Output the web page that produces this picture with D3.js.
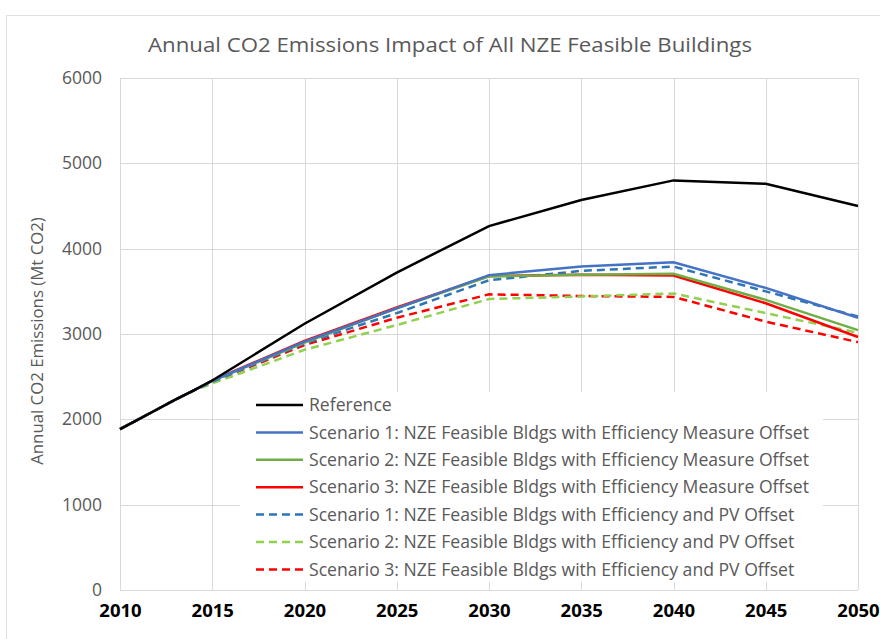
<!DOCTYPE html>
<html>
<head>
<meta charset="utf-8">
<script src="https://cdn.jsdelivr.net/npm/d3@7"></script>
<style>
  body { margin: 0; background: #fff; }
  text { font-family: "Open Sans", sans-serif; }
</style>
</head>
<body>
<script>
// years (yearly to 2015, then every 5 years)
var years = [2010, 2011, 2012, 2013, 2014, 2015, 2020, 2025, 2030, 2035, 2040, 2045, 2050];

// Mt CO2
var reference   = [1885, 2000, 2115, 2230, 2340, 2455, 3120, 3720, 4265, 4570, 4800, 4760, 4500];
var s1Measure   = [1885, 2000, 2115, 2230, 2340, 2450, 2910, 3300, 3690, 3790, 3840, 3540, 3190];
var s2Measure   = [1885, 2000, 2115, 2230, 2340, 2450, 2900, 3300, 3675, 3695, 3705, 3400, 3045];
var s3Measure   = [1885, 2000, 2115, 2230, 2340, 2455, 2920, 3310, 3680, 3695, 3685, 3360, 2965];
var s1PV        = [1885, 2000, 2115, 2230, 2340, 2440, 2890, 3245, 3630, 3740, 3790, 3500, 3205];
var s2PV        = [1885, 2000, 2115, 2230, 2335, 2420, 2815, 3105, 3410, 3440, 3475, 3245, 3015];
var s3PV        = [1885, 2000, 2115, 2230, 2340, 2440, 2870, 3190, 3465, 3445, 3435, 3145, 2905];

var yTicks = [0, 1000, 2000, 3000, 4000, 5000, 6000];
var xTicks = [2010, 2015, 2020, 2025, 2030, 2035, 2040, 2045, 2050];

var series = [
  {name: "Reference", values: reference, color: "#000000", dash: null},
  {name: "Scenario 1: NZE Feasible Bldgs with Efficiency Measure Offset", values: s1Measure, color: "#4472C4", dash: null},
  {name: "Scenario 2: NZE Feasible Bldgs with Efficiency Measure Offset", values: s2Measure, color: "#70AD47", dash: null},
  {name: "Scenario 3: NZE Feasible Bldgs with Efficiency Measure Offset", values: s3Measure, color: "#FF0000", dash: null},
  {name: "Scenario 1: NZE Feasible Bldgs with Efficiency and PV Offset", values: s1PV, color: "#2E75B6", dash: "8,5"},
  {name: "Scenario 2: NZE Feasible Bldgs with Efficiency and PV Offset", values: s2PV, color: "#92D050", dash: "8,5"},
  {name: "Scenario 3: NZE Feasible Bldgs with Efficiency and PV Offset", values: s3PV, color: "#FF0000", dash: "8,5"}
];

var W = 880, H = 639;
var margin = {top: 78, right: 22, bottom: 49, left: 120},
    width = W - margin.left - margin.right,
    height = H - margin.top - margin.bottom;

var svg = d3.select("body").append("svg")
    .attr("width", W)
    .attr("height", H);

// chart border
svg.append("rect")
    .attr("x", 6.5).attr("y", 15.5)
    .attr("width", W).attr("height", H)
    .attr("fill", "none")
    .attr("stroke", "#e0e0e0");

svg.append("text")
    .attr("x", 450).attr("y", 52)
    .attr("text-anchor", "middle")
    .attr("fill", "#595959")
    .attr("textLength", 604)
    .attr("lengthAdjust", "spacingAndGlyphs")
    .style("font-size", "20.5px")
    .text("Annual CO2 Emissions Impact of All NZE Feasible Buildings");

var g = svg.append("g")
    .attr("transform", "translate(" + margin.left + "," + margin.top + ")");

var x = d3.scaleLinear().domain([2010, 2050]).range([0, width]);
var y = d3.scaleLinear().domain([0, 6000]).range([height, 0]);

// gridlines
g.append("g").selectAll("line.h").data(yTicks).enter().append("line")
    .attr("x1", 0).attr("x2", width)
    .attr("y1", function(d) { return Math.round(y(d)) + 0.5; })
    .attr("y2", function(d) { return Math.round(y(d)) + 0.5; })
    .attr("stroke", "#d9d9d9");
g.append("g").selectAll("line.v").data(xTicks).enter().append("line")
    .attr("y1", 0).attr("y2", height)
    .attr("x1", function(d) { return Math.round(x(d)) + 0.5; })
    .attr("x2", function(d) { return Math.round(x(d)) + 0.5; })
    .attr("stroke", "#d9d9d9");

// axes (labels only)
var yAxis = d3.axisLeft(y).tickValues(yTicks).tickFormat(d3.format("d")).tickSize(0).tickPadding(18);
g.append("g").call(yAxis)
    .call(function(s) { s.select(".domain").remove(); })
    .selectAll("text")
    .attr("fill", "#595959")
    .style("font-size", "17.5px")
    .style("font-family", "Open Sans, sans-serif");

var xAxis = d3.axisBottom(x).tickValues(xTicks).tickFormat(d3.format("d")).tickSize(0).tickPadding(14);
g.append("g").attr("transform", "translate(0," + height + ")").call(xAxis)
    .call(function(s) { s.select(".domain").remove(); })
    .selectAll("text")
    .attr("fill", "#000")
    .style("font-size", "18.5px")
    .style("font-weight", "bold")
    .style("font-family", "Open Sans, sans-serif");

svg.append("text")
    .attr("transform", "translate(43," + 341 + ") rotate(-90)")
    .attr("text-anchor", "middle")
    .attr("fill", "#595959")
    .style("font-size", "16.8px")
    .text("Annual CO2 Emissions (Mt CO2)");

// lines
var line = d3.line()
    .x(function(d, i) { return x(years[i]); })
    .y(function(d) { return y(d); });

g.append("g").selectAll("path").data(series.slice().reverse()).enter().append("path")
    .attr("d", function(d) { return line(d.values); })
    .attr("fill", "none")
    .attr("stroke", function(d) { return d.color; })
    .attr("stroke-width", 2.5)
    .attr("stroke-dasharray", function(d) { return d.dash; });

// legend
var legend = svg.append("g");
legend.append("rect")
    .attr("x", 240).attr("y", 392)
    .attr("width", 583).attr("height", 190)
    .attr("fill", "#fff");

var rows = legend.selectAll("g.item").data(series).enter().append("g")
    .attr("transform", function(d, i) { return "translate(256," + (405 + i * 27.4) + ")"; });
rows.append("line")
    .attr("x1", 0).attr("x2", 47)
    .attr("stroke", function(d) { return d.color; })
    .attr("stroke-width", 2.5)
    .attr("stroke-dasharray", function(d) { return d.dash; });
rows.append("text")
    .attr("x", 53).attr("dy", "0.35em")
    .attr("fill", "#595959")
    .style("font-size", "17.6px")
    .text(function(d) { return d.name; });
</script>
</body>
</html>
